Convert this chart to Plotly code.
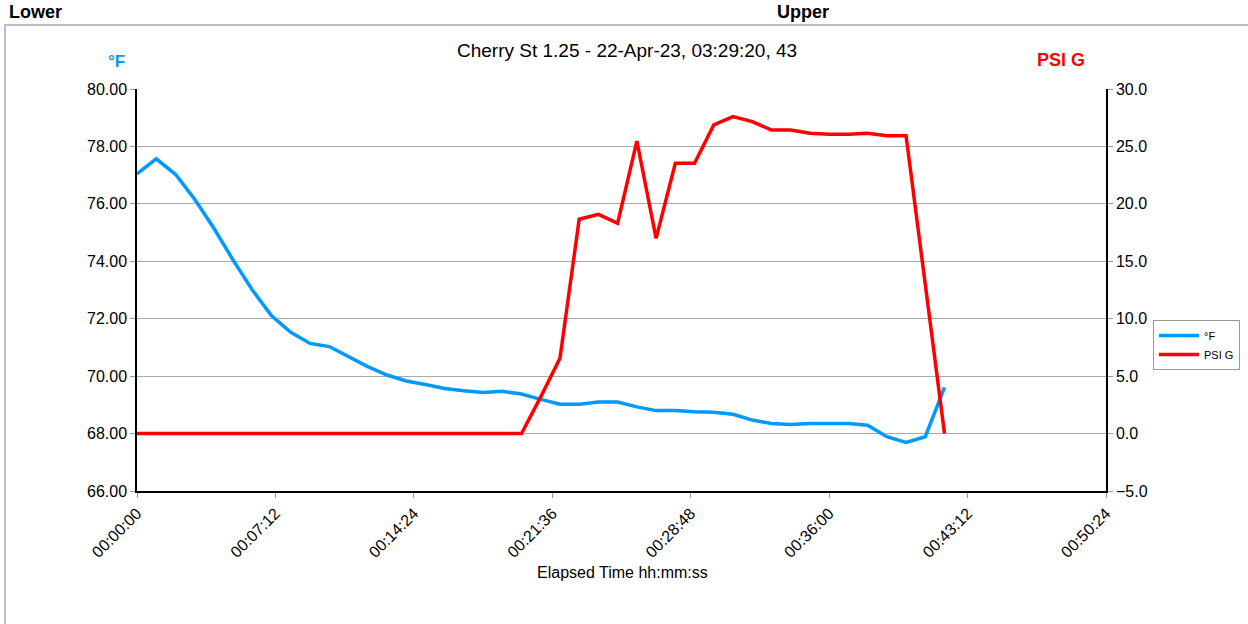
import plotly.graph_objects as go

# Elapsed minutes (one sample per minute)
minutes = list(range(43))
temp_f = [77.04, 77.57, 77.03, 76.16, 75.15, 74.04, 73.00, 72.10, 71.53, 71.14,
          71.03, 70.68, 70.33, 70.04, 69.83, 69.71, 69.57, 69.49, 69.43, 69.47,
          69.38, 69.19, 69.02, 69.02, 69.10, 69.10, 68.93, 68.80, 68.80, 68.76,
          68.74, 68.67, 68.47, 68.35, 68.32, 68.35, 68.35, 68.35, 68.29, 67.89,
          67.69, 67.89, 69.61]
psi_g = [0.0, 0.0, 0.0, 0.0, 0.0, 0.0, 0.0, 0.0, 0.0, 0.0,
         0.0, 0.0, 0.0, 0.0, 0.0, 0.0, 0.0, 0.0, 0.0, 0.0,
         0.0, 3.2, 6.55, 18.66, 19.09, 18.31, 25.47, 17.0, 23.53, 23.53,
         26.87, 27.59, 27.16, 26.43, 26.43, 26.14, 26.06, 26.06, 26.14, 25.94,
         25.94, 13.0, 0.0]
x_tick_seconds = [0, 432, 864, 1296, 1728, 2160, 2592, 3024]
x_tick_labels = ["00:00:00", "00:07:12", "00:14:24", "00:21:36",
                 "00:28:48", "00:36:00", "00:43:12", "00:50:24"]

seconds = [m * 60 for m in minutes]

FONT = "Liberation Sans, Arial, sans-serif"
BLUE = "#0099FF"
RED = "#FF0000"

fig = go.Figure()
fig.add_trace(go.Scatter(x=seconds, y=temp_f, name="°F", mode="lines",
                         line=dict(color=BLUE, width=3.5), yaxis="y"))
fig.add_trace(go.Scatter(x=seconds, y=psi_g, name="PSI G", mode="lines",
                         line=dict(color=RED, width=3.5), yaxis="y2"))

L, R, T, B = 137, 142, 89, 133
W, H = 1248, 624
pw, ph = W - L - R, H - T - B


def px(xp):
    return (xp - L) / pw


def py(yp):
    return (H - B - yp) / ph


fig.update_layout(
    width=W, height=H,
    margin=dict(l=L, r=R, t=T, b=B, pad=0, autoexpand=False),
    paper_bgcolor="white", plot_bgcolor="white",
    font=dict(family=FONT, size=16, color="black"),
    showlegend=True,
    legend=dict(xref="container", yref="container",
                x=1153 / W, y=1 - 320 / H, xanchor="left", yanchor="top",
                bordercolor="#999999", borderwidth=1, bgcolor="white",
                font=dict(size=11, family=FONT), tracegroupgap=0,
                itemwidth=40),
    xaxis=dict(range=[0, 3024], tickvals=x_tick_seconds, ticktext=x_tick_labels,
               tickangle=-45, showgrid=False, zeroline=False,
               showline=True, linecolor="black", linewidth=1.5,
               ticks="outside", ticklen=5, tickcolor="#999999",
               tickfont=dict(size=16)),
    yaxis=dict(range=[66, 80], dtick=2, tick0=66, tickformat=".2f",
               showgrid=True, gridcolor="#AAAAAA", gridwidth=1, zeroline=False,
               showline=True, linecolor="black", linewidth=1.5,
               ticks="outside", ticklen=5, tickcolor="#999999",
               tickfont=dict(size=16)),
    yaxis2=dict(range=[-5, 30], dtick=5, tick0=-5, tickformat=".1f",
                overlaying="y", side="right", showgrid=False, zeroline=False,
                showline=True, linecolor="black", linewidth=1.5,
                ticks="outside", ticklen=5, tickcolor="#999999",
                tickfont=dict(size=16)),
)

annotations = [
    dict(text="<b>Lower</b>", x=px(7), y=py(12), xanchor="left", yanchor="middle",
         font=dict(size=18)),
    dict(text="<b>Upper</b>", x=px(775), y=py(12), xanchor="left", yanchor="middle",
         font=dict(size=18)),
    dict(text="Cherry St 1.25 - 22-Apr-23, 03:29:20, 43", x=px(627), y=py(50),
         xanchor="center", yanchor="middle", font=dict(size=19)),
    dict(text="<b>°F</b>", x=px(116), y=py(61), xanchor="center", yanchor="middle",
         font=dict(size=17, color=BLUE)),
    dict(text="<b>PSI G</b>", x=px(1061), y=py(60), xanchor="center", yanchor="middle",
         font=dict(size=18, color=RED)),
    dict(text="Elapsed Time hh:mm:ss", x=px(622), y=py(572), xanchor="center",
         yanchor="middle", font=dict(size=16)),
]
for a in annotations:
    a.update(xref="paper", yref="paper", showarrow=False)
fig.update_layout(annotations=annotations)

# outer chart border
fig.add_shape(type="rect", xref="paper", yref="paper",
              x0=px(5), y0=py(700), x1=px(1300), y1=py(25),
              line=dict(color="#AAAAAA", width=1.5), layer="below")

fig.write_html("out.html", config={"displayModeBar": False},
               post_script="document.body.style.margin='0';document.body.style.overflow='hidden';")
